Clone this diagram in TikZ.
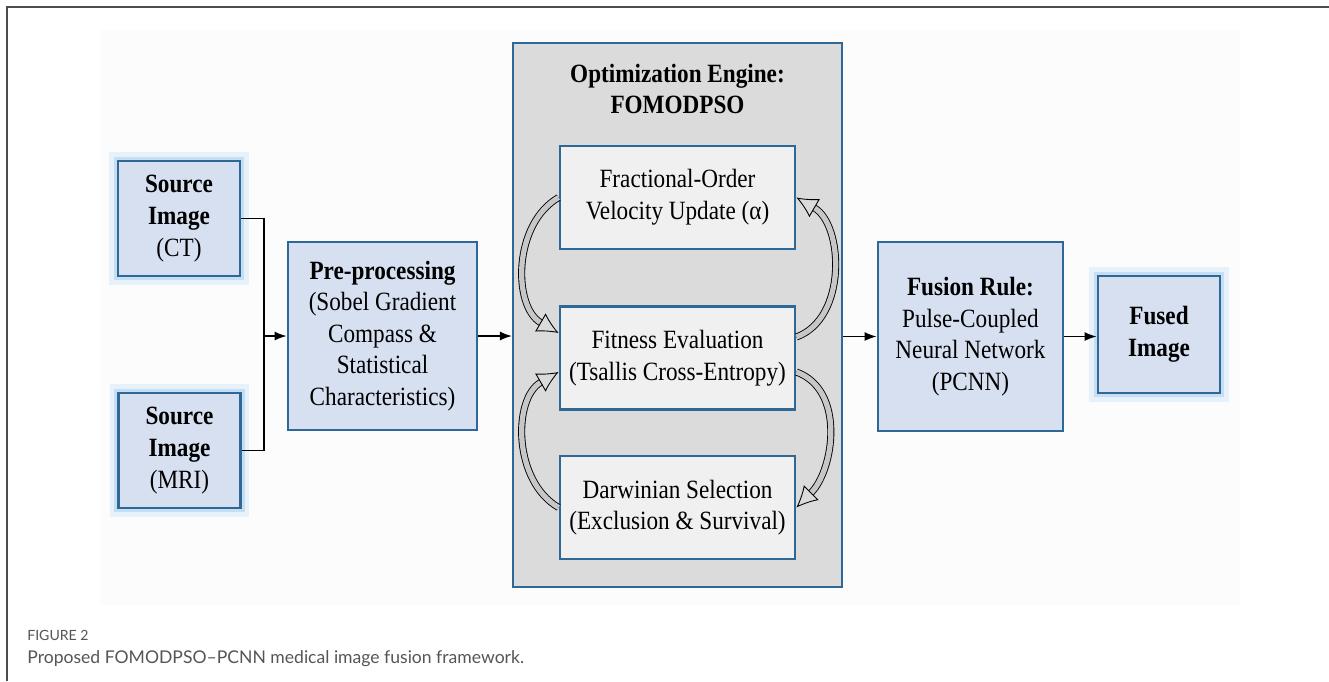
\documentclass[tikz,border=0pt]{standalone}
\usepackage{fontspec}
\setmainfont{Liberation Serif}[FakeStretch=0.88]
\newfontfamily\capfont{Lato}
\usetikzlibrary{positioning,arrows.meta}
\definecolor{boxblue}{RGB}{46,104,150}
\definecolor{boxfill}{RGB}{214,224,240}
\definecolor{glowblue}{RGB}{160,200,235}
\definecolor{capgray}{RGB}{85,85,85}

\begin{document}
\begin{tikzpicture}[x=0.02cm,y=-0.02cm,>=Latex,font=\fontsize{15}{18}\selectfont]
\tikzstyle{block}=[rectangle,draw=boxblue,line width=1.6pt,fill=boxfill,align=center,inner sep=2pt]
\tikzstyle{glow}=[preaction={draw=glowblue!25,line width=10pt},preaction={draw=glowblue!60,line width=5pt}]
\tikzstyle{inbox}=[block,fill=black!6,minimum width=4.7cm,minimum height=2.06cm]
\tikzstyle{cycle}=[draw=black,line width=0.5pt,double=black!22,double distance=3pt,-{Latex[open,length=12pt,width=12pt]}]
\tikzstyle{link}=[line width=0.85pt]
\useasboundingbox (0,0) rectangle (1329,681);
\draw[black!70,line width=1.2pt] (7,681) -- (7,7) -- (1329,7);
\fill[black!1] (100,30) rectangle (1240,605);

\node[block,glow,minimum width=2.44cm,minimum height=2.3cm] (CT) at (179,218.5) {\textbf{Source}\\\textbf{Image}\\(CT)};
\node[block,glow,minimum width=2.44cm,minimum height=2.3cm] (MR) at (179.5,450.5) {\textbf{Source}\\\textbf{Image}\\(MRI)};
\node[block,minimum width=3.78cm,minimum height=3.76cm] (PP) at (382.5,336) {\textbf{Pre-processing}\\(Sobel Gradient\\Compass \&\\Statistical\\Characteristics)};

% optimisation engine
\node[block,fill=black!14,line width=1.2pt,minimum width=6.58cm,minimum height=10.88cm] (OE) at (677.5,315) {};
\node[align=center] (OT) at (677.5,89) {\textbf{Optimization Engine:}\\\textbf{FOMODPSO}};
\node[inbox] (FO) at (677.5,197.5) {Fractional-Order\\Velocity Update (α)};
\node[inbox] (FE) at (677.5,358) {Fitness Evaluation\\(Tsallis Cross-Entropy)};
\node[inbox] (DS) at (677.5,507.5) {Darwinian Selection\\(Exclusion \& Survival)};

\node[block,minimum width=3.7cm,minimum height=3.78cm] (FR) at (970.5,336.5) {\textbf{Fusion Rule:}\\Pulse-Coupled\\Neural Network\\(PCNN)};
\node[block,glow,minimum width=2.44cm,minimum height=2.34cm] (FI) at (1159,334.5) {\textbf{Fused}\\\textbf{Image}};

\coordinate (J) at (264,336);
\draw[link] (CT.east) -| (J) |- (MR.east);
\draw[link,->] (J) -- (PP.west);
\draw[link,->] (PP.east) -- (PP.east -| OE.west);
\draw[link,->] (FR.west -| OE.east) -- (FR.west);
\draw[link,->] (FR.east) -- (FR.east -| FI.west);

\draw[cycle] (FO.west) to[out=210,in=150] ([yshift=0.5cm]FE.west);
\draw[cycle] (DS.west) to[out=150,in=210] ([yshift=-0.28cm]FE.west);
\draw[cycle] ([yshift=0.42cm]FE.east) to[out=20,in=-30] (FO.east);
\draw[cycle] ([yshift=-0.28cm]FE.east) to[out=-20,in=45] (DS.east);

\node[anchor=base west,font=\capfont\fontsize{8}{10}\selectfont,text=capgray,inner sep=0pt] (FG) at (27,640) {FIGURE 2};
\node[anchor=base west,font=\capfont\fontsize{10}{12}\selectfont,text=capgray,inner sep=0pt] (CP) at (27,663) {Proposed FOMODPSO–PCNN medical image fusion framework.};
\end{tikzpicture}
\end{document}
